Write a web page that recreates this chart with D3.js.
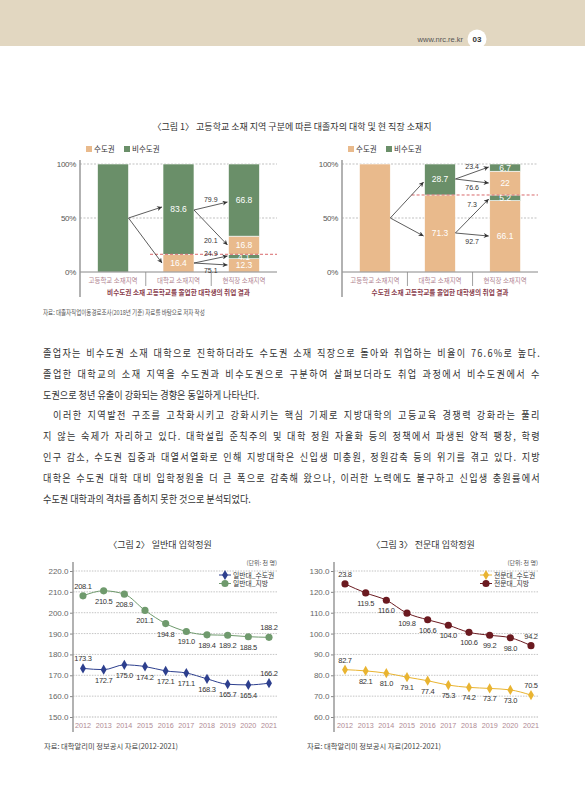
<!DOCTYPE html>
<html>
<head>
<meta charset="utf-8">
<script src="https://cdn.jsdelivr.net/npm/d3@7"></script>
<style>
  body { margin: 0; background: #fff; }
  svg { display: block; }
  text { font-family: "Noto Sans CJK KR", "Noto Sans", sans-serif; }
  .num { font-family: "Liberation Sans", Arial, sans-serif; }
</style>
</head>
<body>
<div id="page"></div>
<script>
// ---- data: figure 1 (stacked shares, bottom -> top) ----
const fig1Categories = ["고등학교 소재지역", "대학교 소재지역", "현직장 소재지역"];
const fig1SegTypes = [["non"], ["cap", "non"], ["cap", "non", "cap", "non"]];
const fig1LeftValues = [[100], [16.4, 83.6], [12.3, 4.1, 16.8, 66.8]];
const fig1RightTypes = [["cap"], ["cap", "non"], ["cap", "non", "cap", "non"]];
const fig1RightValues = [[100], [71.3, 28.7], [66.1, 5.2, 22, 6.7]];
// flows: [from bar, from %, to bar, to %, label]
const fig1LeftFlows = [
  [0, 50, 1, 60.2, ""], [0, 50, 1, 8.3, ""],
  [1, 57.4, 2, 64.8, "79.9"], [1, 57.4, 2, 25, "20.1"],
  [1, 8.3, 2, 14.8, "24.9"], [1, 8.3, 2, 6.5, "75.1"]
];
const fig1RightFlows = [
  [0, 50, 1, 83.3, ""], [0, 50, 1, 33.3, ""],
  [1, 86.1, 2, 97.2, "23.4"], [1, 86.1, 2, 82.4, "76.6"],
  [1, 36.1, 2, 67.6, "7.3"], [1, 36.1, 2, 33.3, "92.7"]
];
const fig1LeftCut = 16.4;
const fig1RightCut = 71.3;
const fig1Ticks = [0, 50, 100];

// ---- data: figures 2 and 3 ----
const years = [2012, 2013, 2014, 2015, 2016, 2017, 2018, 2019, 2020, 2021];
const genCapital = [173.3, 172.7, 175.0, 174.2, 172.1, 171.1, 168.3, 165.7, 165.4, 166.2];
const genRegional = [208.1, 210.5, 208.9, 201.1, 194.8, 191.0, 189.4, 189.2, 188.5, 188.2];
const colCapital = [82.7, 82.1, 81.0, 79.1, 77.4, 75.3, 74.2, 73.7, 73.0, 70.5];
const colRegional = [123.8, 119.5, 116.0, 109.8, 106.6, 104.0, 100.6, 99.2, 98.0, 94.2];
const colRegionalLabels = ["23.8", "119.5", "116.0", "109.8", "106.6", "104.0", "100.6", "99.2", "98.0", "94.2"];
const genTicks = [150, 160, 170, 180, 190, 200, 210, 220];
const colTicks = [60, 70, 80, 90, 100, 110, 120, 130];

const paragraph = [
  "졸업자는 비수도권 소재 대학으로 진학하더라도 수도권 소재 직장으로 돌아와 취업하는 비율이 76.6%로 높다.",
  "졸업한 대학교의 소재 지역을 수도권과 비수도권으로 구분하여 살펴보더라도 취업 과정에서 비수도권에서 수",
  "도권으로 청년 유출이 강화되는 경향은 동일하게 나타난다.",
  "이러한 지역발전 구조를 고착화시키고 강화시키는 핵심 기제로 지방대학의 고등교육 경쟁력 강화라는 풀리",
  "지 않는 숙제가 자리하고 있다. 대학설립 준칙주의 및 대학 정원 자율화 등의 정책에서 파생된 양적 팽창, 학령",
  "인구 감소, 수도권 집중과 대열서열화로 인해 지방대학은 신입생 미충원, 정원감축 등의 위기를 겪고 있다. 지방",
  "대학은 수도권 대학 대비 입학정원을 더 큰 폭으로 감축해 왔으나, 이러한 노력에도 불구하고 신입생 충원률에서",
  "수도권 대학과의 격차를 좁히지 못한 것으로 분석되었다."
];
const paraJustify = [true, true, false, true, true, true, true, false];
const paraIndent = [false, false, false, true, false, false, false, false];

const colors = { cap: "#e9ba8c", non: "#6a8f69" };
const narrow = 0.87; // body font is a condensed face

const W = 585, H = 800;
const svg = d3.select("#page").append("svg").attr("width", W).attr("height", H);

svg.append("defs").append("marker")
  .attr("id", "arrowhead")
  .attr("viewBox", "0 -5 10 10")
  .attr("refX", 10).attr("refY", 0)
  .attr("markerWidth", 6).attr("markerHeight", 5)
  .attr("markerUnits", "userSpaceOnUse")
  .attr("orient", "auto")
  .append("path").attr("d", "M0,-5L10,0L0,5L3,0Z").attr("fill", "#333");

function figTitle(x, y, text) {
  svg.append("text").attr("x", x).attr("y", y).attr("text-anchor", "middle")
    .attr("font-size", 9).attr("fill", "#333").text(text);
}

// ---- header band ----
svg.append("rect").attr("x", 0).attr("y", 0).attr("width", W).attr("height", 46).attr("fill", "#e2d7c1");
svg.append("text").attr("class", "num").attr("x", 463).attr("y", 42).attr("text-anchor", "end")
  .attr("font-size", 7.5).attr("fill", "#555").text("www.nrc.re.kr");
svg.append("circle").attr("cx", 477).attr("cy", 39).attr("r", 9.5).attr("fill", "#fff");
svg.append("text").attr("class", "num").attr("x", 477).attr("y", 42).attr("text-anchor", "middle")
  .attr("font-size", 8).attr("font-weight", "bold").attr("fill", "#333").text("03");

// ---- figure 1 ----
figTitle(292, 130, "〈그림 1〉 고등학교 소재 지역 구분에 따른 대졸자의 대학 및 현 직장 소재지");

function drawFig1(opt) {
  const g = svg.append("g");
  const y = d3.scaleLinear().domain([0, 100]).range([272, 164]);
  const x = d3.scaleBand().domain(d3.range(3)).range([opt.axisX, opt.gridEnd])
    .paddingInner(0.527).paddingOuter(0.268);

  // legend
  const leg = g.append("g").attr("transform", `translate(${opt.axisX + 6},146)`);
  [["cap", "수도권", 0], ["non", "비수도권", 38]].forEach(([k, label, dx]) => {
    leg.append("rect").attr("x", dx).attr("y", 0).attr("width", 6).attr("height", 6).attr("fill", colors[k]);
    leg.append("text").attr("x", dx + 8).attr("y", 6).attr("font-size", 7.5).attr("fill", "#333").text(label);
  });

  // gridlines
  g.selectAll(".grid").data(fig1Ticks.filter(t => t > 0)).enter().append("line")
    .attr("x1", opt.axisX).attr("x2", opt.gridEnd)
    .attr("y1", d => y(d)).attr("y2", d => y(d))
    .attr("stroke", "#999").attr("stroke-width", 0.6).attr("stroke-dasharray", "2,1.5");

  // bars
  opt.values.forEach((vals, i) => {
    let base = 0;
    vals.forEach((v, j) => {
      const type = opt.types[i][j];
      g.append("rect")
        .attr("x", x(i)).attr("width", x.bandwidth())
        .attr("y", y(base + v)).attr("height", y(base) - y(base + v))
        .attr("fill", colors[type]).attr("stroke", "#fff").attr("stroke-width", 0.6);
      if (v < 100) {
        g.append("text").attr("class", "num")
          .attr("x", x(i) + x.bandwidth() / 2).attr("y", y(base + v / 2) + 3)
          .attr("text-anchor", "middle").attr("font-size", 8.5).attr("fill", "#fff")
          .text(v);
      }
      base += v;
    });
  });

  // cut line
  g.append("line")
    .attr("x1", x(1) - 13).attr("x2", opt.gridEnd)
    .attr("y1", y(opt.cut)).attr("y2", y(opt.cut))
    .attr("stroke", "#d9696b").attr("stroke-width", 1).attr("stroke-dasharray", "3,2");

  // baseline axis
  g.append("line").attr("x1", opt.axisX).attr("x2", opt.gridEnd)
    .attr("y1", y(0)).attr("y2", y(0)).attr("stroke", "#888").attr("stroke-width", 1);
  g.append("line").attr("x1", opt.axisX).attr("x2", opt.axisX)
    .attr("y1", 160).attr("y2", 297).attr("stroke", "#999").attr("stroke-width", 1.5);

  // y tick labels
  g.selectAll(".yt").data(fig1Ticks).enter().append("text").attr("class", "num")
    .attr("x", opt.axisX - 4).attr("y", d => y(d) + 3).attr("text-anchor", "end")
    .attr("font-size", 8).attr("fill", "#555").attr("letter-spacing", -0.3).text(d => d + "%");

  // separators and category labels
  [1, 2].forEach(i => {
    const sx = (x(i - 1) + x.bandwidth() + x(i)) / 2;
    g.append("line").attr("x1", sx).attr("x2", sx).attr("y1", y(0)).attr("y2", 286)
      .attr("stroke", "#888").attr("stroke-width", 0.8);
  });
  g.selectAll(".cat").data(fig1Categories).enter().append("text")
    .attr("transform", (d, i) => `translate(${x(i) + x.bandwidth() / 2},283) scale(0.9,1)`)
    .attr("text-anchor", "middle").attr("font-size", 7.2).attr("fill", "#b08490").text(d => d);
  g.append("text")
    .attr("transform", `translate(${(opt.axisX + opt.gridEnd) / 2},295) scale(0.92,1)`)
    .attr("text-anchor", "middle").attr("font-size", 7.2).attr("font-weight", "bold")
    .attr("fill", "#8a3d4c").text(opt.subtitle);

  // flows
  opt.flows.forEach(([a, ya, b, yb, label]) => {
    const x1 = x(a) + x.bandwidth(), x2 = x(b) - 1;
    const y1 = y(ya), y2 = y(yb);
    g.append("line").attr("x1", x1).attr("y1", y1).attr("x2", x2).attr("y2", y2)
      .attr("stroke", "#333").attr("stroke-width", 0.8).attr("marker-end", "url(#arrowhead)");
    if (label) {
      const dy = y2 - y1;
      const sign = dy < 0 ? -1 : 1;
      const off = sign * (3.5 + 0.2 * Math.abs(dy)) + (sign < 0 ? -1 : 2.5);
      g.append("text").attr("class", "num")
        .attr("x", (x1 + x2) / 2).attr("y", (y1 + y2) / 2 + off + 2.5)
        .attr("text-anchor", "middle").attr("font-size", 7).attr("fill", "#333").text(label);
    }
  });
}

drawFig1({ axisX: 80, gridEnd: 277, types: fig1SegTypes, values: fig1LeftValues,
  flows: fig1LeftFlows, cut: fig1LeftCut, subtitle: "비수도권 소재 고등학교를 졸업한 대학생의 취업 결과" });
drawFig1({ axisX: 342, gridEnd: 538, types: fig1RightTypes, values: fig1RightValues,
  flows: fig1RightFlows, cut: fig1RightCut, subtitle: "수도권 소재 고등학교를 졸업한 대학생의 취업 결과" });

svg.append("text").attr("transform", "translate(43,315) scale(0.85,1)")
  .attr("font-size", 6.5).attr("fill", "#555")
  .text("자료: 대졸자직업이동경로조사(2018년 기준) 자료를 바탕으로 저자 작성");

// ---- body paragraph: justify mostly with letter spacing ----
paragraph.forEach((line, i) => {
  const x0 = paraIndent[i] ? 53 : 43;
  const t = svg.append("text")
    .attr("transform", `translate(${x0},${357 + i * 20.8}) scale(${narrow},1)`)
    .attr("font-size", 10.5).attr("fill", "#333").text(line);
  if (paraJustify[i]) {
    const target = (541 - x0) / narrow;
    const extra = target - t.node().getComputedTextLength();
    t.attr("letter-spacing", extra * 0.85 / line.length);
    const rest = target - t.node().getComputedTextLength();
    t.attr("word-spacing", rest / (line.split(" ").length - 1));
  }
});

// ---- figures 2 and 3 ----
function drawLineChart(opt) {
  const g = svg.append("g");
  const x = d3.scalePoint().domain(years).range(opt.xRange);
  const y = d3.scaleLinear().domain(d3.extent(opt.ticks)).range([717, 571]);

  figTitle(opt.titleX, 548, opt.title);
  g.append("text").attr("x", opt.gridEnd).attr("y", 565).attr("text-anchor", "end")
    .attr("font-size", 6).attr("fill", "#555").text("(단위: 천 명)");

  g.selectAll(".grid").data(opt.ticks).enter().append("line")
    .attr("x1", opt.axisX).attr("x2", opt.gridEnd)
    .attr("y1", d => y(d)).attr("y2", d => y(d))
    .attr("stroke", (d, i) => i === 0 ? "#999" : "#aaa").attr("stroke-width", 0.7)
    .attr("stroke-dasharray", "1.5,1.2");

  const axis = g.append("g").attr("transform", `translate(${opt.axisX},0)`)
    .call(d3.axisLeft(y).tickValues(opt.ticks).tickFormat(d3.format(".1f")).tickSize(3).tickPadding(1.5));
  axis.select(".domain").remove();
  axis.selectAll(".tick line").attr("stroke", "#888");
  axis.selectAll(".tick text").attr("class", "num").attr("font-size", 8).attr("fill", "#666")
    .attr("font-family", "Liberation Sans, Arial, sans-serif");
  g.append("line").attr("x1", opt.axisX).attr("x2", opt.axisX).attr("y1", 562).attr("y2", 732)
    .attr("stroke", "#999").attr("stroke-width", 1.5);

  g.selectAll(".yr").data(years).enter().append("text").attr("class", "num")
    .attr("x", d => x(d)).attr("y", 728).attr("text-anchor", "middle")
    .attr("font-size", 7.2).attr("fill", "#b08a94").text(d => d);

  opt.series.forEach((s, si) => {
    const line = d3.line().x((d, i) => x(years[i])).y(d => y(d)).curve(d3.curveMonotoneX);
    g.append("path").datum(s.values).attr("d", line).attr("fill", "none")
      .attr("stroke", s.color).attr("stroke-width", 1);
    const sym = d3.symbol().type(s.marker === "diamond" ? d3.symbolDiamond : d3.symbolCircle)
      .size(s.marker === "diamond" ? 30 : 40);
    g.selectAll(".m" + si).data(s.values).enter().append("path")
      .attr("d", sym).attr("fill", s.color)
      .attr("transform", (d, i) => `translate(${x(years[i])},${y(d)})`);
    g.selectAll(".l" + si).data(s.values).enter().append("text").attr("class", "num")
      .attr("x", (d, i) => x(years[i])).attr("y", (d, i) => {
        const above = i === 0 || i === s.values.length - 1;
        return y(d) + (above ? -7 : 13);
      })
      .attr("text-anchor", "middle").attr("font-size", 7.5).attr("fill", "#333")
      .attr("letter-spacing", -0.3)
      .text((d, i) => s.labels ? s.labels[i] : d3.format(".1f")(d));

    // legend
    const ly = 575 + si * 8.5;
    const lx = opt.legendX;
    g.append("line").attr("x1", lx - 6).attr("x2", lx + 6).attr("y1", ly).attr("y2", ly)
      .attr("stroke", s.color).attr("stroke-width", 1);
    g.append("path").attr("d", sym).attr("fill", s.color).attr("transform", `translate(${lx},${ly})`);
    g.append("text").attr("x", lx + 8).attr("y", ly + 2.5).attr("font-size", 6.8).attr("fill", "#333").text(s.name);
  });

  g.append("text").attr("x", opt.sourceX).attr("y", 749).attr("font-size", 7.3).attr("fill", "#444")
    .text("자료: 대학알리미 정보공시 자료(2012-2021)");
}

drawLineChart({
  title: "〈그림 2〉 일반대 입학정원", titleX: 160, axisX: 73, gridEnd: 277, xRange: [83, 269],
  ticks: genTicks, legendX: 225, sourceX: 44,
  series: [
    { name: "일반대_수도권", values: genCapital, color: "#2d3f8e", marker: "diamond" },
    { name: "일반대_지방", values: genRegional, color: "#6f9a6d", marker: "circle" }
  ]
});
drawLineChart({
  title: "〈그림 3〉 전문대 입학정원", titleX: 423, axisX: 334, gridEnd: 538, xRange: [345, 531],
  ticks: colTicks, legendX: 486, sourceX: 307,
  series: [
    { name: "전문대_수도권", values: colCapital, color: "#e9b431", marker: "diamond" },
    { name: "전문대_지방", values: colRegional, labels: colRegionalLabels, color: "#6b1a20", marker: "circle" }
  ]
});
</script>
</body>
</html>
